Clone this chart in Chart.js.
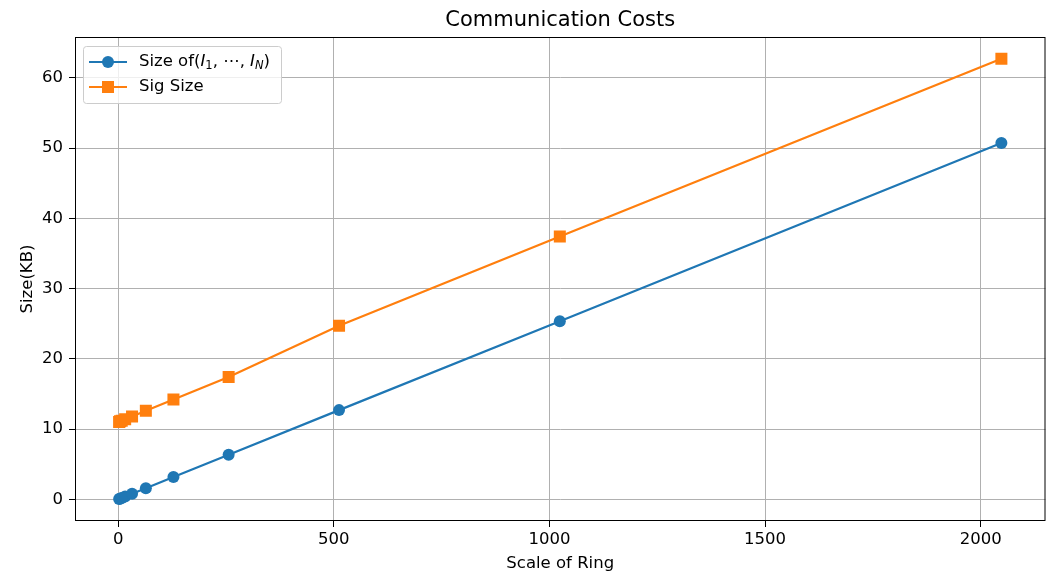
<!DOCTYPE html>
<html lang="en">
<head>
  <meta charset="UTF-8" />
  <title>Communication Costs</title>
  <script src="https://cdn.jsdelivr.net/npm/chart.js"></script>
  <style>
    html, body {
      margin: 0;
      padding: 0;
      background: #ffffff;
    }
    canvas { display: block; }
  </style>
</head>
<body>
  <canvas id="costChart" width="1054" height="576"></canvas>

  <script>
    // ring sizes and measured sizes (KB)
    const ringScale = [2, 4, 8, 16, 32, 64, 128, 256, 512, 1024, 2048];
    const keySize = [0.05, 0.1, 0.2, 0.4, 0.79, 1.58, 3.17, 6.35, 12.7, 25.35, 50.7];
    const sigSize = [11.0, 11.1, 11.2, 11.4, 11.8, 12.6, 14.2, 17.4, 24.7, 37.4, 62.7];
    const xTicks = [0, 500, 1000, 1500, 2000];
    const yTicks = [0, 10, 20, 30, 40, 50, 60];

    const FONT = "'DejaVu Sans', sans-serif";
    const BLUE = '#1f77b4';
    const ORANGE = '#ff7f0e';
    const FS = 16.5;

    // title, frame and legend drawn by hand to look like matplotlib
    const extras = {
      id: 'extras',
      afterDraw(chart) {
        const ctx = chart.ctx;
        const a = chart.chartArea;
        ctx.save();

        // frame
        ctx.strokeStyle = '#000';
        ctx.lineWidth = 1;
        ctx.strokeRect(a.left + 0.5, a.top + 0.5, a.right - a.left - 1, a.bottom - a.top - 1);

        // title
        ctx.fillStyle = '#000';
        ctx.font = '21px ' + FONT;
        ctx.textAlign = 'center';
        ctx.textBaseline = 'alphabetic';
        ctx.fillText('Communication Costs', (a.left + a.right) / 2, 26);

        // legend box
        const bx = 83, by = 46, bw = 198, bh = 57;
        ctx.fillStyle = 'rgba(255,255,255,0.8)';
        ctx.strokeStyle = '#cccccc';
        ctx.beginPath();
        ctx.roundRect(bx + 0.5, by + 0.5, bw, bh, 3);
        ctx.fill();
        ctx.stroke();

        const rows = [
          { y: 62, color: BLUE, marker: 'circle' },
          { y: 87, color: ORANGE, marker: 'square' }
        ];
        rows.forEach(r => {
          ctx.strokeStyle = r.color;
          ctx.lineWidth = 2;
          ctx.beginPath();
          ctx.moveTo(89, r.y);
          ctx.lineTo(127, r.y);
          ctx.stroke();
          ctx.fillStyle = r.color;
          if (r.marker === 'circle') {
            ctx.beginPath();
            ctx.arc(108, r.y, 6, 0, Math.PI * 2);
            ctx.fill();
          } else {
            ctx.fillRect(102, r.y - 6, 12, 12);
          }
        });

        // legend labels
        ctx.fillStyle = '#000';
        ctx.textAlign = 'left';
        ctx.textBaseline = 'middle';
        let x = 139;
        const put = (txt, font, dy) => {
          ctx.font = font;
          ctx.fillText(txt, x, 62 + (dy || 0));
          x += ctx.measureText(txt).width;
        };
        put('Size of(', FS + 'px ' + FONT);
        put('I', 'italic ' + FS + 'px ' + FONT);
        put('1', '11.5px ' + FONT, 4);
        put(', \u22ef, ', FS + 'px ' + FONT);
        put('I', 'italic ' + FS + 'px ' + FONT);
        put('N', 'italic 11.5px ' + FONT, 4);
        put(')', FS + 'px ' + FONT);

        ctx.font = FS + 'px ' + FONT;
        ctx.fillText('Sig Size', 139, 87);

        ctx.restore();
      }
    };

    new Chart(document.getElementById('costChart'), {
      type: 'line',
      data: {
        datasets: [
          {
            label: 'Size of(I1, ..., IN)',
            data: ringScale.map((n, i) => ({ x: n, y: keySize[i] })),
            borderColor: BLUE,
            backgroundColor: BLUE,
            borderWidth: 2.2,
            pointStyle: 'circle',
            pointRadius: 6,
            pointBorderWidth: 0,
            tension: 0
          },
          {
            label: 'Sig Size',
            data: ringScale.map((n, i) => ({ x: n, y: sigSize[i] })),
            borderColor: ORANGE,
            backgroundColor: ORANGE,
            borderWidth: 2.2,
            pointStyle: 'rect',
            pointRadius: 8.5,
            pointBorderWidth: 0,
            tension: 0
          }
        ]
      },
      options: {
        responsive: false,
        animation: false,
        maintainAspectRatio: false,
        layout: { padding: { left: 0, right: 6, top: 37, bottom: 0 } },
        plugins: {
          legend: { display: false },
          title: { display: false },
          tooltip: { enabled: false }
        },
        scales: {
          x: {
            type: 'linear',
            min: -100.3,
            max: 2150.3,
            afterBuildTicks: s => { s.ticks = xTicks.map(v => ({ value: v })); },
            afterFit: s => { s.height = 55; },
            grid: { color: '#b0b0b0', lineWidth: 1, tickLength: 6, tickColor: '#000' },
            border: { display: false },
            ticks: {
              color: '#000',
              font: { family: FONT, size: FS },
              padding: 3,
              maxRotation: 0,
              autoSkip: false,
              callback: v => String(v)
            },
            title: {
              display: true,
              text: 'Scale of Ring',
              color: '#000',
              font: { family: FONT, size: FS },
              padding: { top: 2, bottom: 2 }
            }
          },
          y: {
            type: 'linear',
            min: -3.08,
            max: 65.8,
            afterBuildTicks: s => { s.ticks = yTicks.map(v => ({ value: v })); },
            afterFit: s => { s.width = 75; },
            grid: { color: '#b0b0b0', lineWidth: 1, tickLength: 6, tickColor: '#000' },
            border: { display: false },
            ticks: {
              color: '#000',
              font: { family: FONT, size: FS },
              padding: 6,
              autoSkip: false,
              callback: v => String(v)
            },
            title: {
              display: true,
              text: 'Size(KB)',
              color: '#000',
              font: { family: FONT, size: FS },
              padding: { top: 18, bottom: 0 }
            }
          }
        }
      },
      plugins: [extras]
    });
  </script>
</body>
</html>
